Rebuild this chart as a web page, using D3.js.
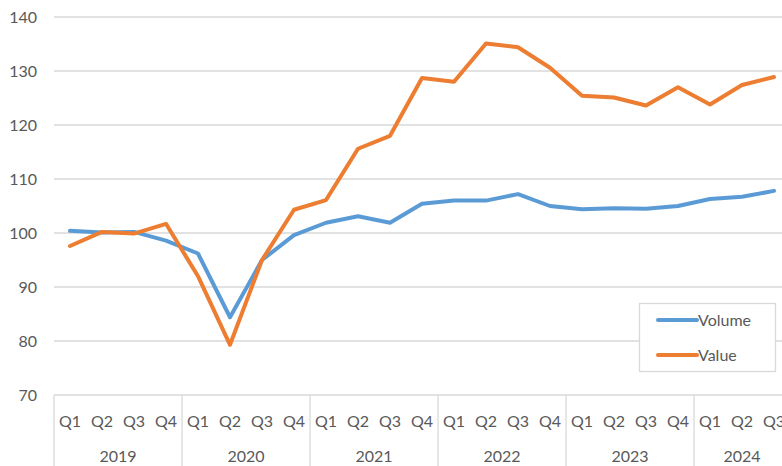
<!DOCTYPE html>
<html>
<head>
<meta charset="utf-8">
<script src="https://cdn.jsdelivr.net/npm/d3@7"></script>
<style>
  html, body { margin: 0; padding: 0; background: #fff; }
  svg { display: block; }
  text { font-family: Lato, "Open Sans", sans-serif; fill: #595959; }
</style>
</head>
<body>
<svg id="chart" width="782" height="466"></svg>
<script>
const years = ["2019", "2020", "2021", "2022", "2023", "2024"];
const quartersPerYear = [4, 4, 4, 4, 4, 3];
const quarterLabels = ["Q1", "Q2", "Q3", "Q4"];
const volume = [100.4, 100.1, 100.2, 98.6, 96.2, 84.4, 95.0, 99.6,
                101.9, 103.1, 101.9, 105.4, 106.0, 106.0, 107.2, 105.0,
                104.4, 104.6, 104.5, 105.0, 106.3, 106.7, 107.8];
const value  = [97.6, 100.2, 99.9, 101.7, 92.0, 79.3, 95.0, 104.3,
                106.1, 115.6, 118.0, 128.7, 128.0, 135.1, 134.4, 130.6,
                125.4, 125.1, 123.6, 127.0, 123.8, 127.4, 128.9];
const yTicks = [70, 80, 90, 100, 110, 120, 130, 140];
const seriesNames = ["Volume", "Value"];
const seriesColors = ["#5b9bd5", "#ed7d31"];

(function () {
const svg = d3.select("#chart");
const pLeft = 54, pRight = 790, pTop = 17, pBottom = 395;
const fs = "16px";

const cats = [];
years.forEach((yr, yi) => {
  for (let q = 0; q < quartersPerYear[yi]; q++) cats.push({ year: yr, q: quarterLabels[q], idx: cats.length });
});

const x = d3.scaleBand().domain(cats.map(d => d.idx)).range([pLeft, pRight]);
const y = d3.scaleLinear().domain([70, 140]).range([pBottom, pTop]);

svg.append("g").selectAll("line").data(yTicks.filter(t => t > 70)).join("line")
  .attr("x1", pLeft).attr("x2", pRight)
  .attr("y1", d => y(d)).attr("y2", d => y(d))
  .attr("stroke", "#d9d9d9").attr("stroke-width", 1.3);

const yAxis = d3.axisLeft(y).tickValues(yTicks).tickSize(0).tickPadding(17);
const gy = svg.append("g").attr("transform", `translate(${pLeft},0)`).call(yAxis);
gy.select(".domain").remove();
gy.selectAll("text").style("font-size", fs).attr("fill", "#595959").attr("font-family", "Lato, 'Open Sans', sans-serif");

svg.append("line").attr("x1", pLeft).attr("x2", pRight).attr("y1", pBottom).attr("y2", pBottom)
  .attr("stroke", "#d9d9d9").attr("stroke-width", 1.3);

const xAxis = d3.axisBottom(x).tickSize(0).tickPadding(0).tickFormat(i => cats[i].q);
const gx = svg.append("g").attr("transform", `translate(0,${pBottom})`).call(xAxis);
gx.select(".domain").remove();
gx.selectAll("text").attr("dy", null).attr("y", 32).style("font-size", fs)
  .attr("fill", "#595959").attr("font-family", "Lato, 'Open Sans', sans-serif");

let start = 0;
const yearInfo = years.map((yr, yi) => {
  const s = start; start += quartersPerYear[yi];
  return { yr, s, e: start };
});
const bw = x.bandwidth();
const seps = [yearInfo[0].s].concat(yearInfo.map(d => d.e));
svg.append("g").selectAll("line").data(seps).join("line")
  .attr("x1", i => pLeft + i * bw).attr("x2", i => pLeft + i * bw)
  .attr("y1", pBottom).attr("y2", 466)
  .attr("stroke", "#d9d9d9").attr("stroke-width", 1.3);
svg.append("g").selectAll("text").data(yearInfo).join("text")
  .attr("x", d => pLeft + (d.s + d.e) / 2 * bw)
  .attr("y", 462).attr("text-anchor", "middle").style("font-size", fs)
  .text(d => d.yr);

const line = d3.line().x((d, i) => x(i) + bw / 2).y(d => y(d));
[volume, value].forEach((s, k) => {
  svg.append("path").datum(s).attr("d", line)
    .attr("fill", "none").attr("stroke", seriesColors[k]).attr("stroke-width", 4)
    .attr("stroke-linejoin", "round").attr("stroke-linecap", "round");
});

const lg = svg.append("g");
lg.append("rect").attr("x", 639.5).attr("y", 303.5).attr("width", 136).attr("height", 68)
  .attr("fill", "#fff").attr("stroke", "#d9d9d9").attr("stroke-width", 1.3);
seriesNames.forEach((n, k) => {
  const yy = 320 + k * 35;
  lg.append("line").attr("x1", 658).attr("x2", 697).attr("y1", yy).attr("y2", yy)
    .attr("stroke", seriesColors[k]).attr("stroke-width", 4).attr("stroke-linecap", "round");
  lg.append("text").attr("x", 698).attr("y", yy + 6).style("font-size", fs).text(n);
});
})();
</script>
</body>
</html>
